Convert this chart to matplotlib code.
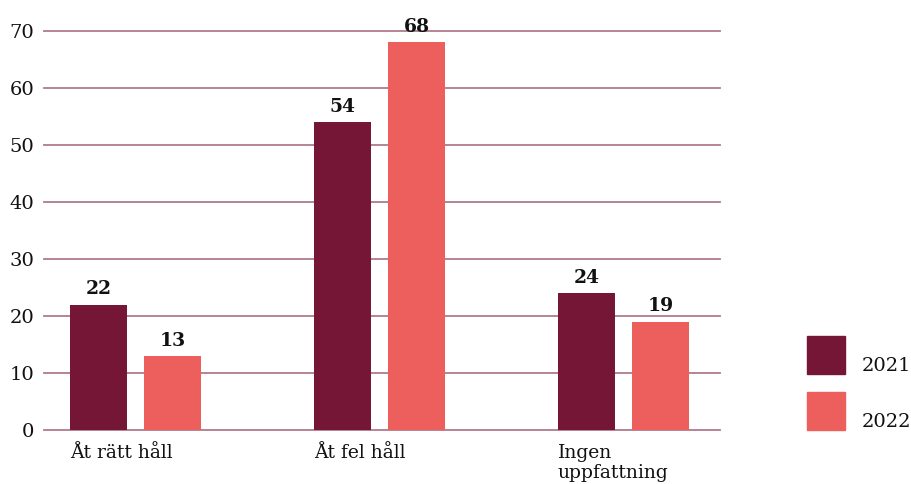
import numpy as np
import matplotlib.pyplot as plt
from matplotlib.patches import Rectangle

#Data
categories = ['Åt rätt håll', 'Åt fel håll', 'Ingen\nuppfattning']
years = ['2021', '2022']
values_2021 = [22, 54, 24]
values_2022 = [13, 68, 19]
y_ticks = [0, 10, 20, 30, 40, 50, 60, 70]

#Colours
col_2021 = '#751636'
col_2022 = '#EC5F5C'
grid_col = '#b07a8f'

plt.rcParams['font.family'] = ['DejaVu Serif']

fig = plt.figure(figsize=(9.12, 4.84), dpi=100)
ax = fig.add_axes([44/912, 54/484, 676/912, 399/484])

x = np.arange(len(categories))
width = 0.234
offset = 0.152

bars1 = ax.bar(x - offset, values_2021, width, color=col_2021, zorder=3)
bars2 = ax.bar(x + offset, values_2022, width, color=col_2022, zorder=3)

#value labels above bars
for bars in (bars1, bars2):
    for b in bars:
        ax.text(b.get_x() + b.get_width()/2, b.get_height() + 1.1, f'{b.get_height():.0f}',
                ha='center', va='bottom', fontsize=13.5, fontweight='bold', color='#111111')

#category labels, left aligned on the first bar
for i, cat in enumerate(categories):
    ax.text(i - offset - width/2, -2.4, cat, ha='left', va='top', fontsize=13.5,
            color='#111111', linespacing=1.2)

ax.set_xlim(-0.375, 2.3955)
ax.set_ylim(0, 70)
ax.set_yticks(y_ticks)
ax.set_xticks([])
ax.tick_params(axis='y', length=0, pad=7, labelsize=14, labelcolor='#111111')
#gridlines by hand so the edge ones are not clipped
for t in y_ticks:
    ax.axhline(t, color=grid_col, linewidth=1.3, zorder=0, clip_on=False)
for s in ax.spines.values():
    s.set_visible(False)

#legend drawn as squares on the right
for j, (yr, c) in enumerate(zip(years, [col_2021, col_2022])):
    top = 336 + j*56
    fig.add_artist(Rectangle((807/912, 1 - (top + 38)/484), 38/912, 38/484,
                             transform=fig.transFigure, color=c))
    fig.text(862/912, 1 - (top + 30)/484, yr, ha='left', va='center', fontsize=14, color='#111111')

plt.savefig('out.png', dpi=100)
